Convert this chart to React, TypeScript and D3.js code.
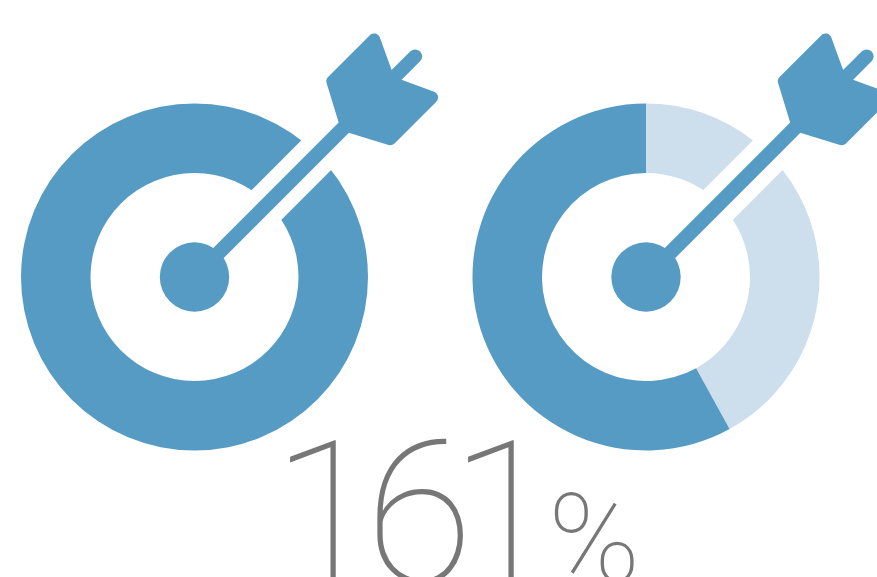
import React from "react";
import * as d3 from "d3";

// Share of each ring: first value is the pale remainder, second the filled part.
const ringNames = ["full", "partial"];
const paleShare = [0, 42];
const filledShare = [100, 58];
const valueDigits = "161";
const valueUnit = "%";

const WIDTH = 877;
const HEIGHT = 577;
const BLUE = "#559bc3";
const PALE = "#cddeed";
const TEXT = "#777777";

const centers = d3.scalePoint<string>().domain(ringNames).range([194.5, 646]);
const CY = 277;
const OUTER = 173.5;
const INNER = 104;
const HUB = 34.7;
const GAP = 42;
const SHAFT = 14.5;

const arc = d3.arc<d3.PieArcDatum<number>>().innerRadius(INNER).outerRadius(OUTER);
const pie = d3.pie<number>().sort(null).value((d) => d);

// Dart head in a frame whose x axis runs along the dart, with sharp corners that get rounded.
function dartHead(): string {
  const p = d3.path();
  const r = 6;
  p.moveTo(211, -7);
  p.arcTo(232.3, -47, 304.4, -47, r);
  p.arcTo(304.4, -47, 285.8, -7, r);
  p.lineTo(285.8, -7);
  p.lineTo(285.8, 7);
  p.arcTo(304.4, 47, 232.3, 47, r);
  p.arcTo(232.3, 47, 211, 7, r);
  p.lineTo(211, 7);
  p.closePath();
  return p.toString();
}

function Target({ name, index }: { name: string; index: number }) {
  const slices = pie([paleShare[index], filledShare[index]]);
  const cx = centers(name) as number;
  return (
    <g transform={`translate(${cx},${CY})`}>
      {slices.map((s, i) => (
        <path key={i} d={arc(s) ?? ""} fill={i === 0 ? PALE : BLUE} />
      ))}
      <g transform="rotate(-45)">
        <line x1={0} x2={OUTER + 15} y1={0} y2={0} stroke="#ffffff" strokeWidth={GAP} />
        <circle r={HUB} fill={BLUE} />
        <line x1={0} x2={220} y1={0} y2={0} stroke={BLUE} strokeWidth={SHAFT} />
        <line x1={280} x2={312} y1={0} y2={0} stroke={BLUE} strokeWidth={14} strokeLinecap="round" />
        <path d={dartHead()} fill={BLUE} />
      </g>
    </g>
  );
}

export default function App() {
  return (
    <svg
      width={WIDTH}
      height={HEIGHT}
      viewBox={`0 0 ${WIDTH} ${HEIGHT}`}
      style={{ position: "fixed", left: 0, top: 0, background: "#fff" }}
    >
      {ringNames.map((n, i) => (
        <Target key={n} name={n} index={i} />
      ))}
      <text y={582} fontFamily="Roboto" fontWeight={100} fill={TEXT} fontSize={198}>
        <tspan x="272 365 450">{valueDigits}</tspan>
        <tspan x={548} fontSize={124}>
          {valueUnit}
        </tspan>
      </text>
    </svg>
  );
}
